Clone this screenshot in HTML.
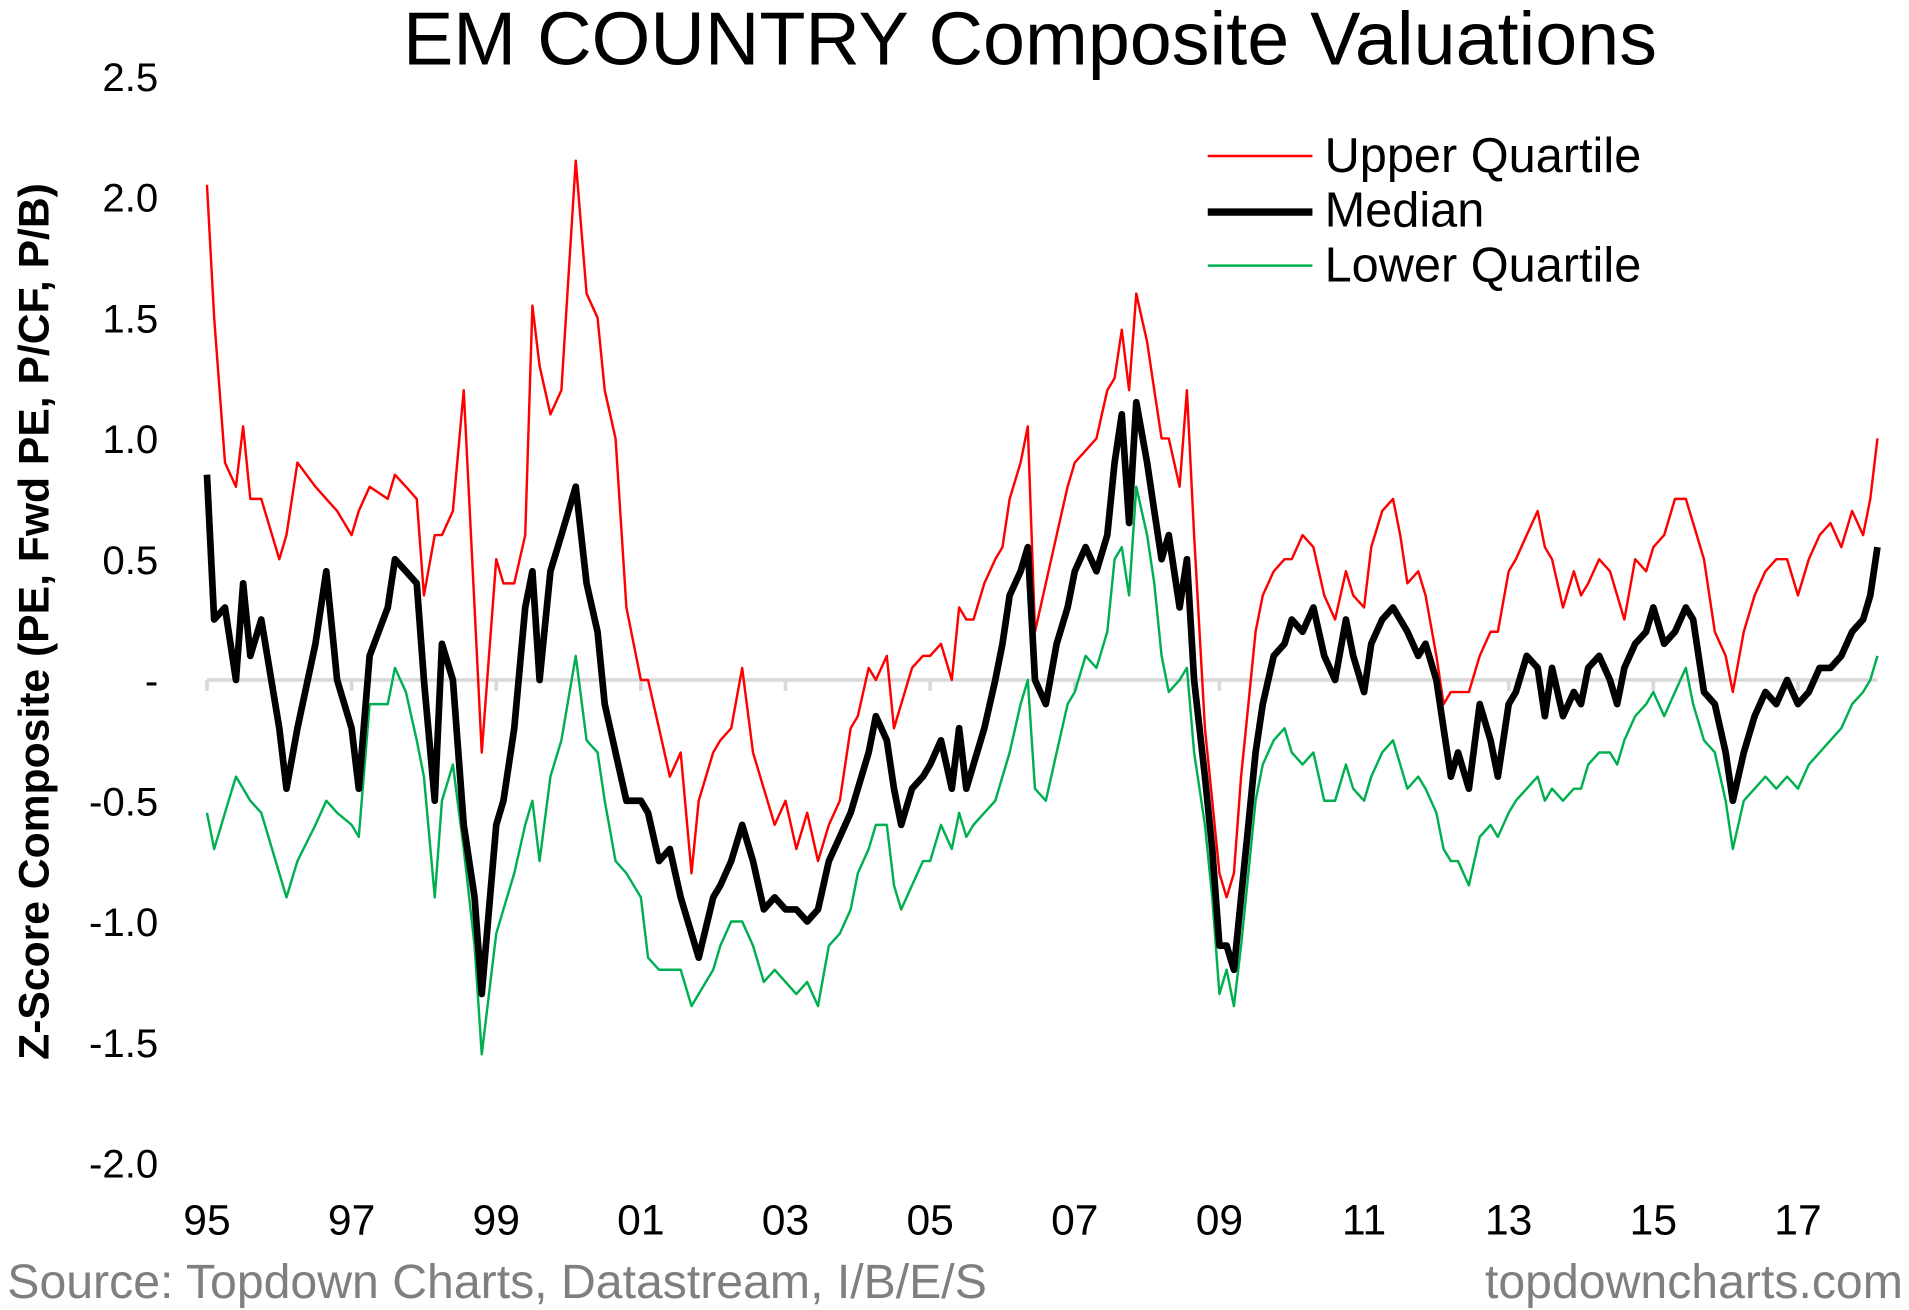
<!DOCTYPE html>
<html><head><meta charset="utf-8"><style>
html,body{margin:0;padding:0;background:#fff;}
svg{display:block;font-family:"Liberation Sans",Arial,sans-serif;}
</style></head><body>
<svg id="chart" width="1909" height="1310" viewBox="0 0 1568 1075" preserveAspectRatio="none" xmlns="http://www.w3.org/2000/svg">
<rect width="1568" height="1075" fill="#fff"/>
<text x="846" y="53" font-size="62" text-anchor="middle" fill="#000">EM COUNTRY Composite Valuations</text>
<text transform="translate(40,510) rotate(-90)" font-size="35" font-weight="bold" text-anchor="middle" fill="#000">Z-Score Composite (PE, Fwd PE, P/CF, P/B)</text>
<g id="yticks"></g>
<g id="xticks"></g>
<g id="series"></g>
<g>
<line x1="992" y1="128" x2="1078" y2="128" stroke="#ff0000" stroke-width="2"/>
<text x="1088" y="141" font-size="40">Upper Quartile</text>
<line x1="992" y1="174" x2="1078" y2="174" stroke="#000" stroke-width="6"/>
<text x="1088" y="186" font-size="40">Median</text>
<line x1="992" y1="218" x2="1078" y2="218" stroke="#00b050" stroke-width="2"/>
<text x="1088" y="231" font-size="40">Lower Quartile</text>
</g>
<text x="6" y="1065" font-size="39.6" fill="#7f7f7f">Source: Topdown Charts, Datastream, I/B/E/S</text>
<text x="1563" y="1065" font-size="39.6" fill="#7f7f7f" text-anchor="end">topdowncharts.com</text>
</svg>
<script>
const dates=[1995.0,1995.1,1995.25,1995.4,1995.5,1995.6,1995.75,1996.0,1996.1,1996.25,1996.5,1996.65,1996.8,1997.0,1997.1,1997.25,1997.5,1997.6,1997.75,1997.9,1998.0,1998.15,1998.25,1998.4,1998.55,1998.7,1998.8,1999.0,1999.1,1999.25,1999.4,1999.5,1999.6,1999.75,1999.9,2000.1,2000.25,2000.4,2000.5,2000.65,2000.8,2001.0,2001.1,2001.25,2001.4,2001.55,2001.7,2001.8,2002.0,2002.1,2002.25,2002.4,2002.55,2002.7,2002.85,2003.0,2003.15,2003.3,2003.45,2003.6,2003.75,2003.9,2004.0,2004.15,2004.25,2004.4,2004.5,2004.6,2004.75,2004.9,2005.0,2005.15,2005.3,2005.4,2005.5,2005.6,2005.75,2005.9,2006.0,2006.1,2006.25,2006.35,2006.45,2006.6,2006.75,2006.9,2007.0,2007.15,2007.3,2007.45,2007.55,2007.65,2007.75,2007.85,2008.0,2008.1,2008.2,2008.3,2008.45,2008.55,2008.65,2008.8,2008.9,2009.0,2009.1,2009.2,2009.3,2009.4,2009.5,2009.6,2009.75,2009.9,2010.0,2010.15,2010.3,2010.45,2010.6,2010.75,2010.85,2011.0,2011.1,2011.25,2011.4,2011.5,2011.6,2011.75,2011.85,2012.0,2012.1,2012.2,2012.3,2012.45,2012.6,2012.75,2012.85,2013.0,2013.1,2013.25,2013.4,2013.5,2013.6,2013.75,2013.9,2014.0,2014.1,2014.25,2014.4,2014.5,2014.6,2014.75,2014.9,2015.0,2015.15,2015.3,2015.45,2015.55,2015.7,2015.85,2016.0,2016.1,2016.25,2016.4,2016.55,2016.7,2016.85,2017.0,2017.15,2017.3,2017.45,2017.6,2017.75,2017.9,2018.0,2018.1];
const upperQuartile=[2.05,1.5,0.9,0.8,1.05,0.75,0.75,0.5,0.6,0.9,0.8,0.75,0.7,0.6,0.7,0.8,0.75,0.85,0.8,0.75,0.35,0.6,0.6,0.7,1.2,0.3,-0.3,0.5,0.4,0.4,0.6,1.55,1.3,1.1,1.2,2.15,1.6,1.5,1.2,1.0,0.3,0.0,0.0,-0.2,-0.4,-0.3,-0.8,-0.5,-0.3,-0.25,-0.2,0.05,-0.3,-0.45,-0.6,-0.5,-0.7,-0.55,-0.75,-0.6,-0.5,-0.2,-0.15,0.05,0.0,0.1,-0.2,-0.1,0.05,0.1,0.1,0.15,0.0,0.3,0.25,0.25,0.4,0.5,0.55,0.75,0.9,1.05,0.2,0.4,0.6,0.8,0.9,0.95,1.0,1.2,1.25,1.45,1.2,1.6,1.4,1.2,1.0,1.0,0.8,1.2,0.6,-0.2,-0.5,-0.8,-0.9,-0.8,-0.4,-0.1,0.2,0.35,0.45,0.5,0.5,0.6,0.55,0.35,0.25,0.45,0.35,0.3,0.55,0.7,0.75,0.6,0.4,0.45,0.35,0.1,-0.1,-0.05,-0.05,-0.05,0.1,0.2,0.2,0.45,0.5,0.6,0.7,0.55,0.5,0.3,0.45,0.35,0.4,0.5,0.45,0.35,0.25,0.5,0.45,0.55,0.6,0.75,0.75,0.65,0.5,0.2,0.1,-0.05,0.2,0.35,0.45,0.5,0.5,0.35,0.5,0.6,0.65,0.55,0.7,0.6,0.75,1.0];
const median=[0.85,0.25,0.3,0.0,0.4,0.1,0.25,-0.2,-0.45,-0.2,0.15,0.45,0.0,-0.2,-0.45,0.1,0.3,0.5,0.45,0.4,0.0,-0.5,0.15,0.0,-0.6,-0.9,-1.3,-0.6,-0.5,-0.2,0.3,0.45,0.0,0.45,0.6,0.8,0.4,0.2,-0.1,-0.3,-0.5,-0.5,-0.55,-0.75,-0.7,-0.9,-1.05,-1.15,-0.9,-0.85,-0.75,-0.6,-0.75,-0.95,-0.9,-0.95,-0.95,-1.0,-0.95,-0.75,-0.65,-0.55,-0.45,-0.3,-0.15,-0.25,-0.45,-0.6,-0.45,-0.4,-0.35,-0.25,-0.45,-0.2,-0.45,-0.35,-0.2,0.0,0.15,0.35,0.45,0.55,0.0,-0.1,0.15,0.3,0.45,0.55,0.45,0.6,0.9,1.1,0.65,1.15,0.9,0.7,0.5,0.6,0.3,0.5,0.0,-0.4,-0.7,-1.1,-1.1,-1.2,-0.9,-0.6,-0.3,-0.1,0.1,0.15,0.25,0.2,0.3,0.1,0.0,0.25,0.1,-0.05,0.15,0.25,0.3,0.25,0.2,0.1,0.15,0.0,-0.2,-0.4,-0.3,-0.45,-0.1,-0.25,-0.4,-0.1,-0.05,0.1,0.05,-0.15,0.05,-0.15,-0.05,-0.1,0.05,0.1,0.0,-0.1,0.05,0.15,0.2,0.3,0.15,0.2,0.3,0.25,-0.05,-0.1,-0.3,-0.5,-0.3,-0.15,-0.05,-0.1,0.0,-0.1,-0.05,0.05,0.05,0.1,0.2,0.25,0.35,0.55];
const lowerQuartile=[-0.55,-0.7,-0.55,-0.4,-0.45,-0.5,-0.55,-0.8,-0.9,-0.75,-0.6,-0.5,-0.55,-0.6,-0.65,-0.1,-0.1,0.05,-0.05,-0.25,-0.4,-0.9,-0.5,-0.35,-0.7,-1.1,-1.55,-1.05,-0.95,-0.8,-0.6,-0.5,-0.75,-0.4,-0.25,0.1,-0.25,-0.3,-0.5,-0.75,-0.8,-0.9,-1.15,-1.2,-1.2,-1.2,-1.35,-1.3,-1.2,-1.1,-1.0,-1.0,-1.1,-1.25,-1.2,-1.25,-1.3,-1.25,-1.35,-1.1,-1.05,-0.95,-0.8,-0.7,-0.6,-0.6,-0.85,-0.95,-0.85,-0.75,-0.75,-0.6,-0.7,-0.55,-0.65,-0.6,-0.55,-0.5,-0.4,-0.3,-0.1,0.0,-0.45,-0.5,-0.3,-0.1,-0.05,0.1,0.05,0.2,0.5,0.55,0.35,0.8,0.6,0.4,0.1,-0.05,0.0,0.05,-0.3,-0.6,-0.9,-1.3,-1.2,-1.35,-1.1,-0.8,-0.5,-0.35,-0.25,-0.2,-0.3,-0.35,-0.3,-0.5,-0.5,-0.35,-0.45,-0.5,-0.4,-0.3,-0.25,-0.35,-0.45,-0.4,-0.45,-0.55,-0.7,-0.75,-0.75,-0.85,-0.65,-0.6,-0.65,-0.55,-0.5,-0.45,-0.4,-0.5,-0.45,-0.5,-0.45,-0.45,-0.35,-0.3,-0.3,-0.35,-0.25,-0.15,-0.1,-0.05,-0.15,-0.05,0.05,-0.1,-0.25,-0.3,-0.5,-0.7,-0.5,-0.45,-0.4,-0.45,-0.4,-0.45,-0.35,-0.3,-0.25,-0.2,-0.1,-0.05,0.0,0.1];
const yTickValues=[2.5,2.0,1.5,1.0,0.5,0,-0.5,-1.0,-1.5,-2.0];
const yTickLabels=["2.5","2.0","1.5","1.0","0.5","-","-0.5","-1.0","-1.5","-2.0"];
const xTickYears=[1995,1997,1999,2001,2003,2005,2007,2009,2011,2013,2015,2017];
const xTickLabels=["95","97","99","01","03","05","07","09","11","13","15","17"];

const NS="http://www.w3.org/2000/svg";
function xScale(t){return 170+(t-1995)*59.4;}
function yScale(v){return 558-v*198.2;}
function mk(tag,attrs,parent){const e=document.createElementNS(NS,tag);for(const k in attrs)e.setAttribute(k,attrs[k]);parent.appendChild(e);return e;}

const yg=document.getElementById('yticks');
yTickValues.forEach((v,i)=>{
  const t=mk('text',{x:130,y:yScale(v)+12,'font-size':33,'text-anchor':'end',fill:'#000'},yg);
  
  
  t.textContent=yTickLabels[i];
});
const xg=document.getElementById('xticks');
const zl=mk('line',{x1:xScale(1995),x2:xScale(2018.1),y1:yScale(0),y2:yScale(0),stroke:'#d9d9d9','stroke-width':3},xg);


xTickYears.forEach((yr,i)=>{
  const tk=mk('line',{x1:xScale(yr),x2:xScale(yr),y1:yScale(0),y2:yScale(0)+9,stroke:'#d9d9d9','stroke-width':3},xg);
  
  
  const t=mk('text',{x:xScale(yr),y:1013,'font-size':35,'text-anchor':'middle',fill:'#000'},xg);
  
  
  t.textContent=xTickLabels[i];
});
const sg=document.getElementById('series');
function path(vals){return vals.map((v,i)=>(i?'L':'M')+xScale(dates[i]).toFixed(1)+' '+yScale(v).toFixed(1)).join(' ');}
const pl=mk('path',{d:path(lowerQuartile),fill:'none',stroke:'#00b050','stroke-width':2,'stroke-linejoin':'round'},sg);


const pu=mk('path',{d:path(upperQuartile),fill:'none',stroke:'#ff0000','stroke-width':2,'stroke-linejoin':'round'},sg);


const pm=mk('path',{d:path(median),fill:'none',stroke:'#000','stroke-width':5.5,'stroke-linejoin':'round'},sg);


</script>
</body></html>
